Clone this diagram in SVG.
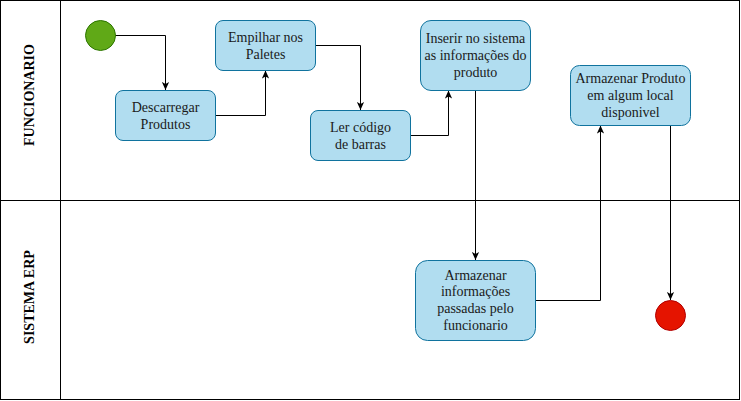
<svg xmlns="http://www.w3.org/2000/svg" width="741" height="401" viewBox="0 0 741 401">
<style>
.lane{fill:none;stroke:#000;stroke-width:1}
.lbl{font-family:"Liberation Serif",serif;font-size:14px;font-weight:bold;fill:#000;text-anchor:middle}
.box{fill:#b1ddf0;stroke:#10739e;stroke-width:1}
.t{font-family:"Liberation Serif",serif;font-size:14px;fill:#1a1a1a;text-anchor:middle}
.c{fill:none;stroke:#000;stroke-width:1}
</style>
<defs>
<marker id="arr" viewBox="0 0 10 10" refX="10" refY="5" markerWidth="8" markerHeight="8" markerUnits="userSpaceOnUse" orient="auto">
<path d="M0,0.5 L10,5 L0,9.5 L2.5,5 z" fill="#000"/>
</marker>
</defs>
<g id="pool">
<rect class="lane" x="0.5" y="0.5" width="739" height="399"/>
<line class="lane" x1="60.5" y1="0.5" x2="60.5" y2="399.5"/>
<line class="lane" x1="0.5" y1="200.5" x2="739.5" y2="200.5"/>
<text class="lbl" transform="translate(29.5,95) rotate(-90)" y="4.7">FUNCIONARIO</text>
<text class="lbl" transform="translate(29.5,297) rotate(-90)" y="4.7">SISTEMA ERP</text>
</g>
<g id="connectors">
<path class="c" d="M115,35.5 H165.5 V90" marker-end="url(#arr)"/>
<path class="c" d="M215.5,115.5 H265.5 V70.5" marker-end="url(#arr)"/>
<path class="c" d="M315.5,45.5 H360.5 V110" marker-end="url(#arr)"/>
<path class="c" d="M410.5,135.5 H448.5 V90.5" marker-end="url(#arr)"/>
<path class="c" d="M475.5,90.5 V260" marker-end="url(#arr)"/>
<path class="c" d="M535.5,300.5 H600.5 V125.5" marker-end="url(#arr)"/>
<path class="c" d="M670.5,125.5 V300" marker-end="url(#arr)"/>
</g>
<g id="start">
<circle cx="100.5" cy="35.5" r="15" fill="#60a917" stroke="#2d7600"/>
</g>
<g id="descarregar">
<rect class="box" x="115.5" y="90.5" width="100" height="50" rx="7.5"/>
<text class="t" x="165.5" y="112">Descarregar</text>
<text class="t" x="165.5" y="128.8">Produtos</text>
</g>
<g id="empilhar">
<rect class="box" x="215.5" y="20.5" width="100" height="50" rx="7.5"/>
<text class="t" x="265.5" y="42">Empilhar nos</text>
<text class="t" x="265.5" y="58.8">Paletes</text>
</g>
<g id="ler">
<rect class="box" x="310.5" y="110.5" width="100" height="50" rx="7.5"/>
<text class="t" x="360.5" y="132">Ler código</text>
<text class="t" x="360.5" y="148.8">de barras</text>
</g>
<g id="inserir">
<rect class="box" x="420.5" y="20.5" width="110" height="70" rx="10.5"/>
<text class="t" x="475.5" y="43">Inserir no sistema</text>
<text class="t" x="475.5" y="59.8">as informações do</text>
<text class="t" x="475.5" y="76.6">produto</text>
</g>
<g id="armazenarProduto">
<rect class="box" x="570.5" y="65.5" width="120" height="60" rx="9"/>
<text class="t" x="630.5" y="83">Armazenar Produto</text>
<text class="t" x="630.5" y="99.8">em algum local</text>
<text class="t" x="630.5" y="116.6">disponivel</text>
</g>
<g id="armazenarInfo">
<rect class="box" x="415.5" y="260.5" width="120" height="80" rx="12"/>
<text class="t" x="475.5" y="279.5">Armazenar</text>
<text class="t" x="475.5" y="296.3">informações</text>
<text class="t" x="475.5" y="313.1">passadas pelo</text>
<text class="t" x="475.5" y="329.9">funcionario</text>
</g>
<g id="end">
<circle cx="670.5" cy="315.5" r="15" fill="#e51400" stroke="#b20000"/>
</g>
</svg>
